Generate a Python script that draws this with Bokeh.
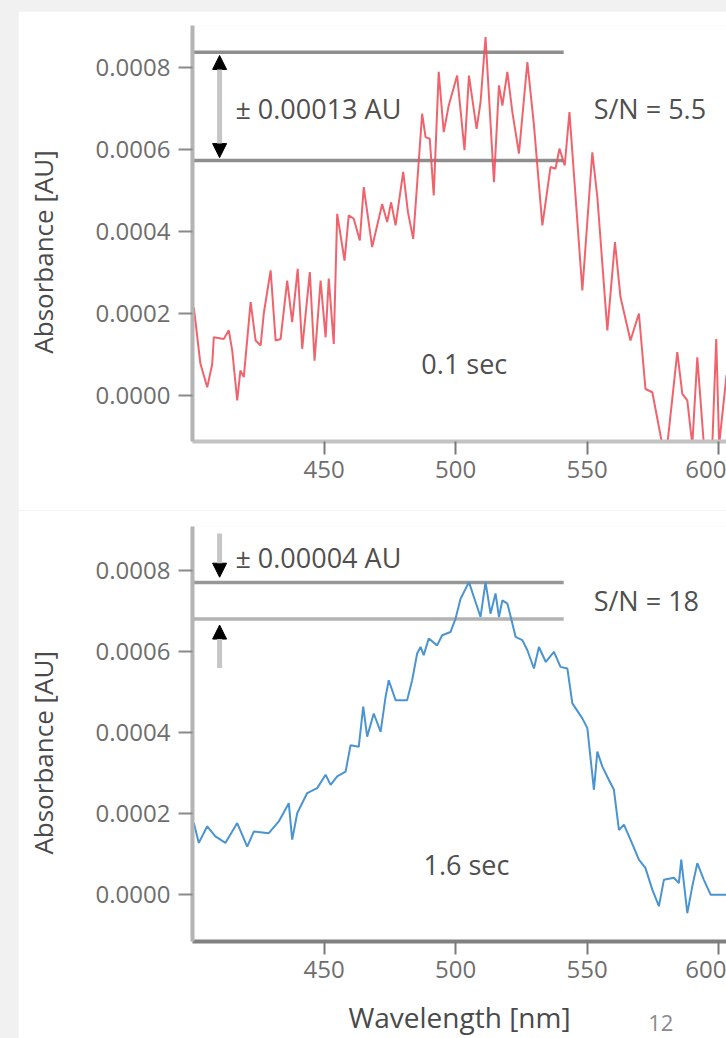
from bokeh.plotting import figure
from bokeh.models import (Range1d, FixedTicker, PrintfTickFormatter, Label, Arrow, NormalHead,
                          LinearAxis)
from bokeh.layouts import column
from bokeh.embed import file_html
from bokeh.resources import INLINE

# ---------------- data ----------------
red_wl = [400.5, 403.0, 405.6, 407.5, 408.1, 411.9, 413.8, 415.1, 417.0, 418.2, 419.5, 422.1, 424.0,
          425.9, 427.1, 429.7, 431.6, 433.5, 436.0, 437.9, 440.0, 441.7, 444.6, 446.4, 448.7, 450.6,
          451.8, 453.7, 455.0, 457.8, 459.4, 461.3, 463.6, 465.1, 468.3, 472.1, 474.0, 475.5, 477.2,
          480.1, 481.9, 483.9, 487.3, 488.6, 490.2, 491.7, 493.6, 495.5, 497.4, 500.6, 503.4, 505.1,
          508.0, 509.5, 511.4, 514.6, 516.5, 517.8, 519.7, 521.6, 524.1, 527.3, 529.8, 533.0, 536.1,
          538.0, 539.5, 541.5, 543.3, 548.2, 552.0, 553.9, 557.7, 560.6, 562.7, 566.5, 569.7,
          572.2, 574.8, 578.6, 580.5, 584.3, 586.2, 588.1, 590.0, 591.9, 594.4, 597.6, 599.1, 600.2, 603.0]
red_abs = [0.000215, 0.000078, 0.000020, 0.000077, 0.000142, 0.000138, 0.000159, 0.000110, -0.000012,
           0.000061, 0.000045, 0.000228, 0.000134, 0.000122, 0.000200, 0.000305, 0.000134, 0.000138,
           0.000280, 0.000179, 0.000309, 0.000114, 0.000301, 0.000085, 0.000280, 0.000142, 0.000285,
           0.000126, 0.000443, 0.000329, 0.000439, 0.000431, 0.000378, 0.000508, 0.000362, 0.000467,
           0.000423, 0.000471, 0.000415, 0.000545, 0.000447, 0.000382, 0.000687, 0.000630, 0.000626,
           0.000488, 0.000789, 0.000642, 0.000707, 0.000780, 0.000598, 0.000780, 0.000650, 0.000715,
           0.000874, 0.000520, 0.000756, 0.000707, 0.000789, 0.000691, 0.000590, 0.000813, 0.000659,
           0.000415, 0.000557, 0.000553, 0.000602, 0.000561, 0.000691, 0.000256, 0.000593,
           0.000484, 0.000159, 0.000374, 0.000240, 0.000134, 0.000200, 0.000016, 0.000008, -0.000120,
           -0.000120, 0.000106, 0.000004, -0.000012, -0.000120, 0.000093, -0.000120, -0.000120,
           0.000138, -0.000120, 0.000050]

blue_wl = [400.5, 402.4, 405.6, 408.7, 412.5, 417.0, 420.8, 423.3, 429.0, 432.8, 436.6, 437.9, 439.8,
           443.6, 447.4, 450.6, 452.5, 455.0, 458.2, 460.1, 463.2, 464.9, 466.4, 468.9, 471.5, 473.4,
           474.6, 477.2, 481.6, 483.5, 485.4, 486.7, 487.9, 489.8, 493.0, 494.9, 498.1, 500.0, 501.9,
           505.1, 507.6, 509.5, 511.4, 513.3, 515.2, 516.5, 517.8, 519.7, 521.6, 522.8, 525.4, 527.3,
           529.8, 531.7, 534.3, 537.4, 539.9, 542.5, 544.4, 548.2, 550.1, 552.6, 553.9, 555.8, 558.3,
           560.2, 562.1, 564.0, 566.5, 569.7, 572.2, 574.8, 577.3, 579.2, 583.0, 584.9, 585.8, 588.1,
           590.0, 591.9, 594.4, 597.0, 603.0]
blue_abs = [0.000177, 0.000128, 0.000169, 0.000144, 0.000128, 0.000177, 0.000119, 0.000156, 0.000152,
            0.000181, 0.000226, 0.000136, 0.000201, 0.000251, 0.000263, 0.000296, 0.000271, 0.000292,
            0.000304, 0.000369, 0.000365, 0.000464, 0.000390, 0.000447, 0.000402, 0.000488, 0.000529,
            0.000480, 0.000480, 0.000529, 0.000595, 0.000611, 0.000591, 0.000632, 0.000615, 0.000640,
            0.000648, 0.000681, 0.000730, 0.000771, 0.000722, 0.000685, 0.000771, 0.000693, 0.000743,
            0.000685, 0.000726, 0.000718, 0.000669, 0.000636, 0.000628, 0.000603, 0.000558, 0.000611,
            0.000574, 0.000599, 0.000562, 0.000558, 0.000472, 0.000435, 0.000411, 0.000259, 0.000353,
            0.000316, 0.000283, 0.000259, 0.000160, 0.000173, 0.000136, 0.000087, 0.000066, 0.000013,
            -0.000028, 0.000037, 0.000042, 0.000029, 0.000087, -0.000045, 0.000021, 0.000078, 0.000037,
            0.000000, 0.000000]

y_ticks = [0.0, 0.0002, 0.0004, 0.0006, 0.0008]
x_ticks = [450, 500, 550, 600]

top_band = [0.000837, 0.000573]      # ± 0.00013 AU band
bottom_band = [0.000770, 0.000680]   # ± 0.00004 AU band
band_end_wl = 541.1

top_texts = ["± 0.00013 AU", "S/N = 5.5", "0.1 sec"]
bottom_texts = ["± 0.00004 AU", "S/N = 18", "1.6 sec"]
y_title = "Absorbance [AU]"
x_title = "Wavelength [nm]"
page_number = "12"
y_title_at = 0.00035       # where the y title is centred
page_number_at = 578       # wavelength under which the page number sits

FONT = "Open Sans"


def make_panel(height, b_top, b_bottom, y_lo, y_hi, xaxis_color):
    p = figure(width=708, height=height, output_backend="svg", toolbar_location=None,
               x_range=Range1d(400, 603.0), y_range=Range1d(y_lo, y_hi),
               min_border_left=174, min_border_right=0,
               min_border_top=b_top, min_border_bottom=b_bottom)
    p.outline_line_color = None
    p.grid.visible = False
    p.background_fill_color = "white"
    p.border_fill_color = "white"

    ya = p.yaxis[0]
    ya.ticker = FixedTicker(ticks=y_ticks)
    ya.formatter = PrintfTickFormatter(format="%.4f")
    ya.axis_line_color = "#b4b4b4"
    ya.axis_line_width = 4
    ya.major_tick_line_color = "#8a8a8a"
    ya.major_tick_line_width = 2
    ya.major_tick_out = 14
    ya.major_tick_in = 0
    ya.minor_tick_line_color = None
    ya.major_label_text_font = FONT
    ya.major_label_text_font_size = "24px"
    ya.major_label_text_color = "#6e6e6e"
    ya.major_label_standoff = 8

    # y title as a rotated label of a second (invisible) left axis
    yt = LinearAxis(ticker=FixedTicker(ticks=[y_title_at]),
                    major_label_overrides={y_title_at: y_title},
                    major_label_orientation="vertical",
                    axis_line_color=None, major_tick_line_color=None,
                    minor_tick_line_color=None, major_tick_out=0, major_tick_in=0,
                    major_label_standoff=31,
                    major_label_text_font=FONT, major_label_text_font_size="26px",
                    major_label_text_color="#4a4a4a")
    p.add_layout(yt, "left")

    xa = p.xaxis[0]
    xa.ticker = FixedTicker(ticks=x_ticks)
    xa.axis_line_color = xaxis_color
    xa.axis_line_width = 4
    xa.major_tick_line_color = "#7a7a7a"
    xa.major_tick_line_width = 2
    xa.major_tick_out = 13
    xa.major_tick_in = 0
    xa.minor_tick_line_color = None
    xa.major_label_text_font = FONT
    xa.major_label_text_font_size = "24px"
    xa.major_label_text_color = "#6e6e6e"
    xa.major_label_standoff = 6
    return p


def add_text(p, x, y, t, size="27px", color="#4f4f4f"):
    p.add_layout(Label(x=x, y=y, text=t, text_font=FONT, text_font_size=size,
                       text_color=color, text_baseline="middle", text_align="left"))


# ---------------- top panel ----------------
p1 = make_panel(499, 14, 69, -0.000112, 0.000902, "#c2c2c2")
p1.segment(x0=[400, 400], y0=top_band, x1=[band_end_wl, band_end_wl], y1=top_band,
           line_color="#8e8e8e", line_width=3.5)
p1.line(red_wl, red_abs, line_color="#f0525c", line_width=2, line_alpha=0.9)
p1.add_layout(Arrow(start=NormalHead(size=14, fill_color="black", line_color="black"),
                    end=NormalHead(size=14, fill_color="black", line_color="black"),
                    x_start=410.3, y_start=0.000580, x_end=410.3, y_end=0.000829,
                    line_color="#c6c6c6", line_width=5))
add_text(p1, 416.3, 0.000700, top_texts[0])
add_text(p1, 552.5, 0.000700, top_texts[1])
add_text(p1, 487.0, 0.000078, top_texts[2])

# ---------------- bottom panel ----------------
p2 = make_panel(528, 16, 96, -0.000115, 0.000908, "#808080")
p2.segment(x0=[400, 400], y0=bottom_band, x1=[band_end_wl, band_end_wl], y1=bottom_band,
           line_color=["#979797", "#b2b2b2"], line_width=3.5)
p2.line(blue_wl, blue_abs, line_color="#4a94d2", line_width=2)
p2.add_layout(Arrow(start=None, end=NormalHead(size=14, fill_color="black", line_color="black"),
                    x_start=410.3, y_start=0.000891, x_end=410.3, y_end=0.000783,
                    line_color="#c6c6c6", line_width=5))
p2.add_layout(Arrow(start=None, end=NormalHead(size=14, fill_color="black", line_color="black"),
                    x_start=410.3, y_start=0.000559, x_end=410.3, y_end=0.000665,
                    line_color="#c6c6c6", line_width=5))
add_text(p2, 416.3, 0.000832, bottom_texts[0])
add_text(p2, 552.5, 0.000726, bottom_texts[1])
add_text(p2, 487.8, 0.000074, bottom_texts[2])

# second (invisible) bottom axis: page number as its tick label, x title as its axis label
xb = LinearAxis(ticker=FixedTicker(ticks=[page_number_at]),
                major_label_overrides={page_number_at: page_number},
                axis_line_color=None, major_tick_line_color=None, minor_tick_line_color=None,
                major_tick_out=0, major_tick_in=0, major_label_standoff=34,
                major_label_text_font=FONT, major_label_text_font_size="22px",
                major_label_text_color="#8a8a8a",
                axis_label=x_title, axis_label_text_font=FONT,
                axis_label_text_font_size="28px", axis_label_text_font_style="normal",
                axis_label_text_color="#4a4a4a", axis_label_standoff=-36)
p2.add_layout(xb, "below")

p1.margin = (11, 0, 0, 18)
p2.margin = (0, 0, 0, 18)

layout = column(p1, p2, spacing=0, styles={"background-color": "#f1f1f1"})

open("out.html", "w").write(file_html(layout, INLINE))
